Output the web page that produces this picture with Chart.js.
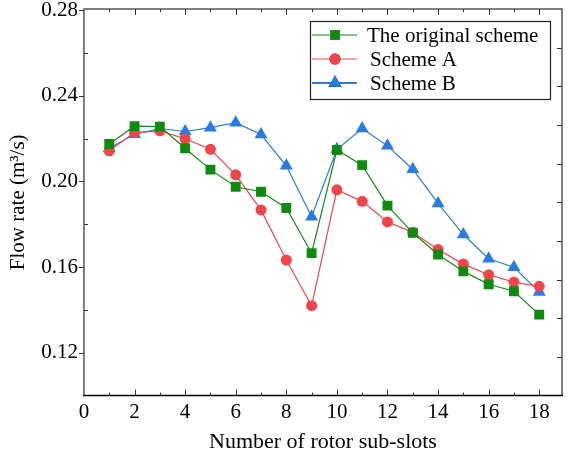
<!DOCTYPE html>
<html lang="en">
<head>
    <meta charset="UTF-8">
    <title>Flow rate</title>
    <style>
        body { margin: 0; background: #fff; }
        #wrap { width: 570px; height: 454px; }
    </style>
</head>
<body>
    <div id="wrap">
        <canvas id="myChart"></canvas>
    </div>

    <script src="https://cdn.jsdelivr.net/npm/chart.js"></script>

    <script>
        // data
        let slots = [1, 2, 3, 4, 5, 6, 7, 8, 9, 10, 11, 12, 13, 14, 15, 16, 17, 18];
        let original = [0.2175, 0.2258, 0.2256, 0.2155, 0.2055, 0.1975, 0.1952, 0.1876, 0.1665, 0.2147, 0.2076, 0.1887, 0.1760, 0.1659, 0.1580, 0.1520, 0.1487, 0.1378];
        let schemeA = [0.2143, 0.2228, 0.2236, 0.2199, 0.2150, 0.2031, 0.1867, 0.1633, 0.1420, 0.1961, 0.1907, 0.1811, 0.1763, 0.1682, 0.1614, 0.1564, 0.1530, 0.1510];
        let schemeB = [0.2155, 0.2220, 0.2247, 0.2233, 0.2251, 0.2274, 0.2219, 0.2073, 0.1835, 0.2150, 0.2247, 0.2166, 0.2057, 0.1897, 0.1752, 0.1639, 0.1599, 0.1484];
        let seriesNames = ['The original scheme', 'Scheme A', 'Scheme B'];
        let xTicks = [0, 2, 4, 6, 8, 10, 12, 14, 16, 18];
        let yTicks = [0.12, 0.16, 0.20, 0.24, 0.28];

        const font = 'Liberation Serif';
        const ctx = document.getElementById('myChart');

        function pts(vals) {
            return vals.map((v, i) => ({ x: slots[i], y: v }));
        }

        let datasets = [
            { label: seriesNames[0], data: pts(original), borderColor: '#128a12', backgroundColor: '#128a12',
              pointStyle: 'rect', pointRadius: 7, borderWidth: 1.2, pointBorderWidth: 0 },
            { label: seriesNames[1], data: pts(schemeA), borderColor: '#f0464b', backgroundColor: '#f0464b',
              pointStyle: 'circle', pointRadius: 5.5, borderWidth: 1.2, pointBorderWidth: 0 },
            { label: seriesNames[2], data: pts(schemeB), borderColor: '#2a7be0', backgroundColor: '#2a7be0',
              pointStyle: 'triangle', pointRadius: 7.5, borderWidth: 1.2, pointBorderWidth: 0 },
        ];

        // frame, inward/outward tick marks and the inset legend
        const framePlugin = {
            id: 'frame',
            afterDatasetsDraw(chart) {
                const c = chart.ctx;
                const a = chart.chartArea;
                const xs = chart.scales.x, ys = chart.scales.y, r = chart.scales.r;
                c.save();
                c.lineWidth = 1.5;
                c.strokeStyle = '#555';
                c.beginPath();
                c.moveTo(a.left, a.bottom); c.lineTo(a.left, a.top);
                c.lineTo(a.right, a.top); c.lineTo(a.right, a.bottom);
                c.stroke();
                c.strokeStyle = '#000';
                c.beginPath();
                c.moveTo(a.left - 1, a.bottom); c.lineTo(a.right + 1, a.bottom);
                c.stroke();

                c.lineWidth = 1;
                c.strokeStyle = '#333';
                c.beginPath();
                for (let v = 1; v <= 18; v++) {
                    const px = Math.round(xs.getPixelForValue(v)) + 0.5;
                    const len = v % 2 === 0 ? 6 : 3;
                    c.moveTo(px, a.bottom); c.lineTo(px, a.bottom - len);
                    c.moveTo(px, a.top); c.lineTo(px, a.top + len);
                }
                for (let v = 0.12; v < 0.29; v += 0.02) {
                    const py = Math.round(ys.getPixelForValue(v)) + 0.5;
                    const major = Math.round(v * 100) % 4 === 0;
                    if (major) { c.moveTo(a.left, py); c.lineTo(a.left - 5, py); }
                    else { c.moveTo(a.left, py); c.lineTo(a.left + 4, py); }
                }
                for (let v = 1; v < 10; v++) {
                    const py = Math.round(r.getPixelForValue(v)) + 0.5;
                    c.moveTo(a.right, py); c.lineTo(a.right - 5, py);
                }
                c.stroke();

                // legend box
                const bx = 310, by = 21, bw = 240, bh = 78;
                c.fillStyle = '#fff';
                c.fillRect(bx, by, bw, bh);
                c.lineWidth = 1.2;
                c.strokeStyle = '#222';
                c.strokeRect(bx + 0.5, by + 0.5, bw, bh);
                c.font = '21px "' + font + '"';
                c.textBaseline = 'middle';
                chart.data.datasets.forEach((ds, i) => {
                    const y = by + 14 + i * 24;
                    c.strokeStyle = ds.borderColor;
                    c.lineWidth = i === 2 ? 2 : 1.2;
                    c.beginPath();
                    c.moveTo(bx + 2, y); c.lineTo(bx + 47, y);
                    c.stroke();
                    Chart.helpers.drawPoint(c, { pointStyle: ds.pointStyle, radius: ds.pointRadius, borderWidth: 0 }, bx + 25, y);
                    c.fillStyle = ds.backgroundColor;
                    c.fill();
                    c.fillStyle = '#000';
                    c.fillText(ds.label, bx + (i === 0 ? 57 : 60), y + 1);
                });
                c.restore();
            }
        };

        let options = {
            responsive: true,
            maintainAspectRatio: false,
            animation: false,
            layout: { padding: { top: 9, right: 8, left: 6, bottom: 0 } },
            plugins: { legend: { display: false }, tooltip: { enabled: false } },
            scales: {
                x: {
                    type: 'linear',
                    min: 0, max: 18.9,
                    afterBuildTicks: s => { s.ticks = xTicks.map(v => ({ value: v })); },
                    afterFit: s => { s.paddingRight = 0; s.paddingLeft = 0; },
                    grid: { display: false, drawTicks: false },
                    border: { display: false },
                    ticks: { color: '#000', font: { family: font, size: 21 }, padding: 4, maxRotation: 0 },
                    title: { display: true, text: 'Number of rotor sub-slots', color: '#000',
                             font: { family: font, size: 22, lineHeight: 1.1 }, padding: { top: 1, bottom: 0 } }
                },
                y: {
                    min: 0.10, max: 0.2805,
                    afterBuildTicks: s => { s.ticks = yTicks.map(v => ({ value: v })); },
                    afterFit: s => { s.paddingTop = 0; s.paddingBottom = 0; },
                    grid: { display: false, drawTicks: false },
                    border: { display: false },
                    ticks: { color: '#000', font: { family: font, size: 21 }, padding: 6,
                             callback: v => v.toFixed(2) },
                    title: { display: true, text: 'Flow rate (m³/s)', color: '#000',
                             font: { family: font, size: 21 }, padding: { top: 0, bottom: 4 } }
                },
                r: { position: 'right', min: 0, max: 10, display: false }
            }
        };

        new Chart(ctx, {
            type: 'line',
            data: { datasets: datasets },
            options: options,
            plugins: [framePlugin]
        });
    </script>
</body>
</html>
